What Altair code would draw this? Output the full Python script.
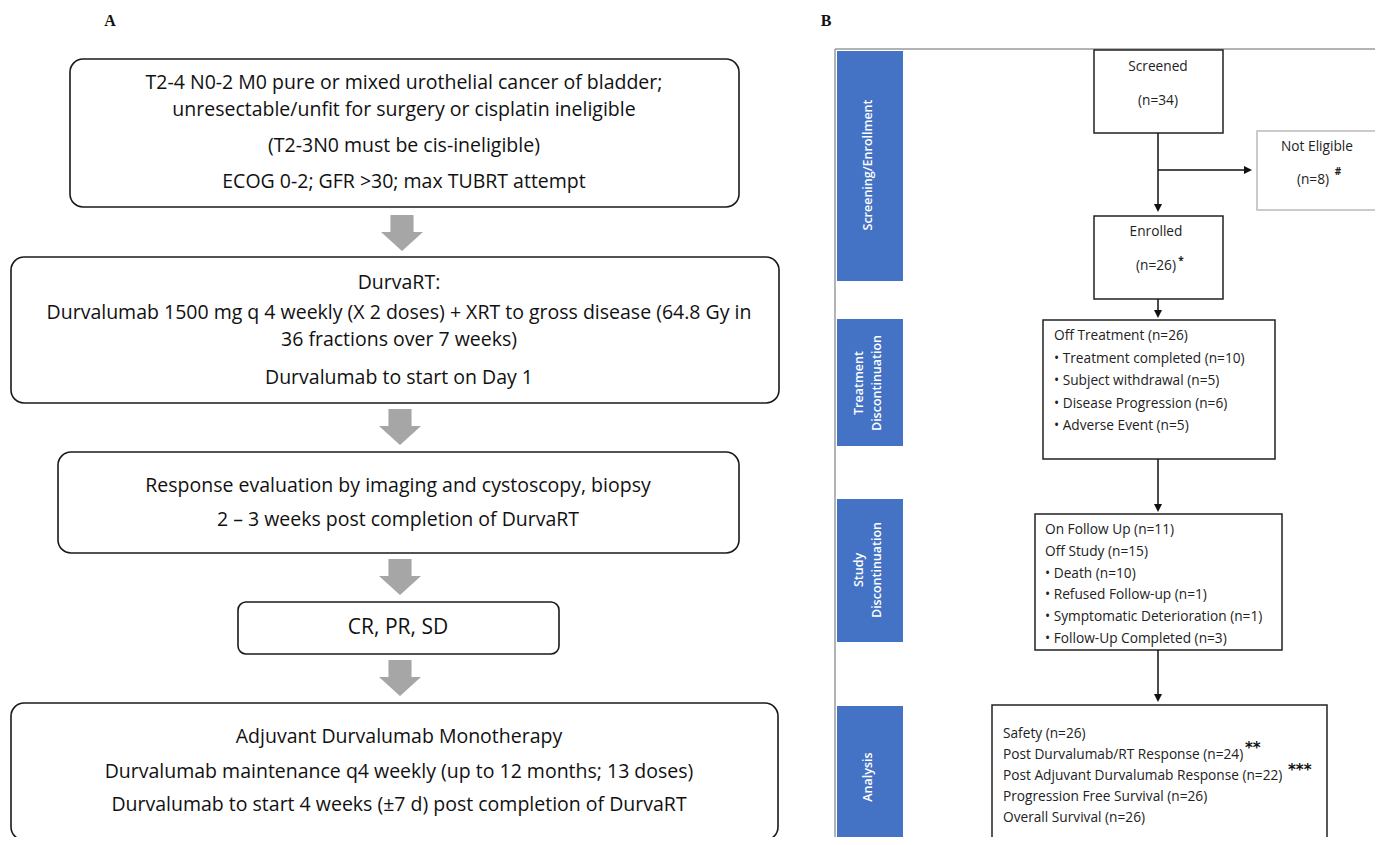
import altair as alt
import pandas as pd

# ---------------- content (text / counts) ----------------
panel_labels = ["A", "B"]

a_box_texts = [
    ["T2-4 N0-2 M0 pure or mixed urothelial cancer of bladder;",
     "unresectable/unfit for surgery or cisplatin ineligible",
     "(T2-3N0 must be cis-ineligible)",
     "ECOG 0-2; GFR >30; max TUBRT attempt"],
    ["DurvaRT:",
     "Durvalumab 1500 mg q 4 weekly (X 2 doses) + XRT to gross disease (64.8 Gy in",
     "36 fractions over 7 weeks)",
     "Durvalumab to start on Day 1"],
    ["Response evaluation by imaging and cystoscopy, biopsy",
     "2 \u2013 3 weeks post completion of DurvaRT"],
    ["CR, PR, SD"],
    ["Adjuvant Durvalumab Monotherapy",
     "Durvalumab maintenance q4 weekly (up to 12 months; 13 doses)",
     "Durvalumab to start 4 weeks (\u00b17 d) post completion of DurvaRT"],
]

b_stage_labels = [["Screening/Enrollment"], ["Treatment", "Discontinuation"],
                  ["Study", "Discontinuation"], ["Analysis"]]
b_center_texts = ["Screened", "(n=34)", "Not Eligible", "(n=8)", "Enrolled", "(n=26)"]
b_off_treatment = ["Off Treatment (n=26)", "\u2022 Treatment completed (n=10)",
                   "\u2022 Subject withdrawal (n=5)", "\u2022 Disease Progression (n=6)",
                   "\u2022 Adverse Event (n=5)"]
b_study = ["On Follow Up (n=11)", "Off Study (n=15)", "\u2022 Death (n=10)",
           "\u2022 Refused Follow-up (n=1)", "\u2022 Symptomatic Deterioration (n=1)",
           "\u2022 Follow-Up Completed (n=3)"]
b_analysis = ["Safety (n=26)", "Post Durvalumab/RT Response (n=24)",
              "Post Adjuvant Durvalumab Response (n=22)",
              "Progression Free Survival (n=26)", "Overall Survival (n=26)"]
b_small_marks = ["#", "*"]
b_big_marks = ["**", "***"]

# ---------------- layout (pixel positions of the reference) ----------------
a_box_x1 = [70, 11, 58, 238, 11]
a_box_x2 = [739, 779, 739, 559, 778]
a_box_y1 = [59, 257, 452, 602, 703]
a_box_y2 = [207, 403, 553, 654, 840]
a_box_r = [13, 13, 13, 8, 13]
a_text_x = [404, 399, 398, 398, 399]
a_text_y = [[82.5, 109.5, 146, 182], [283, 313, 340, 378], [486, 520], [628], [737, 772, 805]]
a_text_fs = [19.5, 19.5, 19.5, 21, 19.5]
a_arrow_x = [402, 400, 400, 400]
a_arrow_y = [233, 427, 577, 678]
label_x = [110, 826]
label_y = [21, 21]

b_frame_x, b_frame_y = 835, 49
b_stage_x1, b_stage_x2 = 837, 903
b_stage_y1 = [51, 319, 499, 706]
b_stage_y2 = [281, 446, 642, 860]
b_stage_text_x = [[868], [859, 877], [859, 877], [868]]
b_stage_text_y = [165, 383, 570, 777]

b_box_x1 = [1094, 1257, 1094, 1043, 1035, 992]
b_box_x2 = [1223, 1379, 1223, 1275, 1282, 1327]
b_box_y1 = [50, 131, 216, 320, 514, 705]
b_box_y2 = [133, 210, 299, 459, 650, 870]
b_box_stroke = ["#222222", "#bbbbbb", "#222222", "#222222", "#222222", "#222222"]
b_center_x = [1158, 1158, 1317, 1313, 1156, 1156]
b_center_y = [67, 101, 147, 180, 232, 266]
b_list_x = [1054, 1045, 1003]
b_list_y0 = [336, 530, 734]
b_list_dy = [22.5, 21.8, 21]
b_small_x = [1338, 1181]
b_small_y = [172, 261]
b_big_x = [1245, 1288]
b_big_y = [748, 770]
b_line_x1 = [1158, 1158, 1158, 1158, 1158]
b_line_y1 = [133, 170, 299, 459, 650]
b_line_x2 = [1158, 1244, 1158, 1158, 1158]
b_line_y2 = [207, 170, 313, 507, 697]
b_head_x = [1158, 1248, 1158, 1158, 1158]
b_head_y = [208, 170, 314, 508, 698]
b_head_shape = ["down", "right", "down", "down", "down"]

FONT = "Open Sans"
W, H = 1383, 845
xs = alt.Scale(domain=[8, W - 8], nice=False, zero=False)
ys = alt.Scale(domain=[8, H - 8], nice=False, zero=False, reverse=True)


def X(f):
    return alt.X(f, type="quantitative", scale=xs, axis=None)


def Y(f):
    return alt.Y(f, type="quantitative", scale=ys, axis=None)


layers = []

# ---- Panel A boxes
for r in sorted(set(a_box_r)):
    rows = [dict(x=a_box_x1[i], x2=a_box_x2[i], y=a_box_y1[i], y2=a_box_y2[i])
            for i in range(len(a_box_x1)) if a_box_r[i] == r]
    layers.append(alt.Chart(pd.DataFrame(rows)).mark_rect(
        cornerRadius=r, fill="white", stroke="#1a1a1a", strokeWidth=1.6, clip=True
    ).encode(x=X("x"), x2=alt.X2("x2"), y=Y("y"), y2=alt.Y2("y2")))

# ---- Panel A block arrows
arrow_path = ("M -0.55 -0.857 L 0.55 -0.857 L 0.55 -0.05 L 1 -0.05 "
              "L 0 0.857 L -1 -0.05 L -0.55 -0.05 Z")
layers.append(alt.Chart(pd.DataFrame(dict(x=a_arrow_x, y=a_arrow_y))).mark_point(
    shape=arrow_path, filled=True, size=42 * 42, color="#a6a6a6", opacity=1, strokeWidth=0
).encode(x=X("x"), y=Y("y")))

# ---- Panel A texts
rows = []
for i, lines in enumerate(a_box_texts):
    for j, t in enumerate(lines):
        rows.append(dict(x=a_text_x[i], y=a_text_y[i][j], t=t, fs=a_text_fs[i]))
layers.append(alt.Chart(pd.DataFrame(rows)).mark_text(
    font=FONT, align="center", baseline="middle", color="#111111"
).encode(x=X("x"), y=Y("y"), text="t:N", size=alt.Size("fs:Q", scale=None)))

# ---- Panel labels
layers.append(alt.Chart(pd.DataFrame(dict(x=label_x, y=label_y, t=panel_labels))).mark_text(
    font="Liberation Serif", fontWeight="bold", fontSize=16, align="center",
    baseline="middle", color="#111111"
).encode(x=X("x"), y=Y("y"), text="t:N"))

# ---- Panel B frame
layers.append(alt.Chart(pd.DataFrame(dict(x=[b_frame_x], x2=[W], y=[b_frame_y]))).mark_rule(
    color="#9a9a9a", strokeWidth=1.5, clip=True
).encode(x=X("x"), x2=alt.X2("x2"), y=Y("y")))
layers.append(alt.Chart(pd.DataFrame(dict(x=[b_frame_x], y=[b_frame_y], y2=[H]))).mark_rule(
    color="#9a9a9a", strokeWidth=1.5, clip=True
).encode(x=X("x"), y=Y("y"), y2=alt.Y2("y2")))

# ---- Panel B stage bars
layers.append(alt.Chart(pd.DataFrame(dict(
    x=[b_stage_x1] * 4, x2=[b_stage_x2] * 4, y=b_stage_y1, y2=b_stage_y2))).mark_rect(
    color="#4472c4", clip=True
).encode(x=X("x"), x2=alt.X2("x2"), y=Y("y"), y2=alt.Y2("y2")))
rows = []
for i, lines in enumerate(b_stage_labels):
    for j, t in enumerate(lines):
        rows.append(dict(x=b_stage_text_x[i][j], y=b_stage_text_y[i], t=t))
layers.append(alt.Chart(pd.DataFrame(rows)).mark_text(
    font=FONT, fontSize=12.5, fontWeight=600, angle=270, align="center",
    baseline="middle", color="white"
).encode(x=X("x"), y=Y("y"), text="t:N"))

# ---- Panel B boxes
for c in sorted(set(b_box_stroke)):
    rows = [dict(x=b_box_x1[i], x2=b_box_x2[i], y=b_box_y1[i], y2=b_box_y2[i])
            for i in range(len(b_box_x1)) if b_box_stroke[i] == c]
    layers.append(alt.Chart(pd.DataFrame(rows)).mark_rect(
        fill="white", stroke=c, strokeWidth=1.5, clip=True
    ).encode(x=X("x"), x2=alt.X2("x2"), y=Y("y"), y2=alt.Y2("y2")))

# ---- Panel B connectors
layers.append(alt.Chart(pd.DataFrame(dict(
    x=b_line_x1, y=b_line_y1, x2=b_line_x2, y2=b_line_y2))).mark_rule(
    color="#111111", strokeWidth=1.5
).encode(x=X("x"), y=Y("y"), x2=alt.X2("x2"), y2=alt.Y2("y2")))
head_paths = {"down": "M -1 -1 L 1 -1 L 0 1 Z", "right": "M -1 -1 L 1 0 L -1 1 Z"}
for d, p in head_paths.items():
    rows = [dict(x=b_head_x[i], y=b_head_y[i]) for i in range(len(b_head_x)) if b_head_shape[i] == d]
    layers.append(alt.Chart(pd.DataFrame(rows)).mark_point(
        shape=p, filled=True, size=64, color="#111111", opacity=1, strokeWidth=0
    ).encode(x=X("x"), y=Y("y")))

# ---- Panel B texts
layers.append(alt.Chart(pd.DataFrame(dict(x=b_center_x, y=b_center_y, t=b_center_texts))).mark_text(
    font=FONT, fontSize=13.7, align="center", baseline="middle", color="#222222"
).encode(x=X("x"), y=Y("y"), text="t:N"))
rows = []
for k, lines in enumerate([b_off_treatment, b_study, b_analysis]):
    for j, t in enumerate(lines):
        rows.append(dict(x=b_list_x[k], y=b_list_y0[k] + j * b_list_dy[k], t=t))
layers.append(alt.Chart(pd.DataFrame(rows)).mark_text(
    font=FONT, fontSize=13.7, align="left", baseline="middle", color="#222222"
).encode(x=X("x"), y=Y("y"), text="t:N"))
layers.append(alt.Chart(pd.DataFrame(dict(x=b_small_x, y=b_small_y, t=b_small_marks))).mark_text(
    font=FONT, fontSize=10, fontWeight="bold", align="center", baseline="middle", color="#222222"
).encode(x=X("x"), y=Y("y"), text="t:N"))
layers.append(alt.Chart(pd.DataFrame(dict(x=b_big_x, y=b_big_y, t=b_big_marks))).mark_text(
    font="DejaVu Sans", fontSize=15, fontWeight="bold", align="left", baseline="middle", color="#111111"
).encode(x=X("x"), y=Y("y"), text="t:N"))

chart = alt.layer(*layers).properties(
    width=W - 16, height=H - 16, padding=0,
    autosize=alt.AutoSizeParams(type="none")
).configure_view(stroke=None)

chart.save("out.html", embed_options={"renderer": "svg", "actions": False})
